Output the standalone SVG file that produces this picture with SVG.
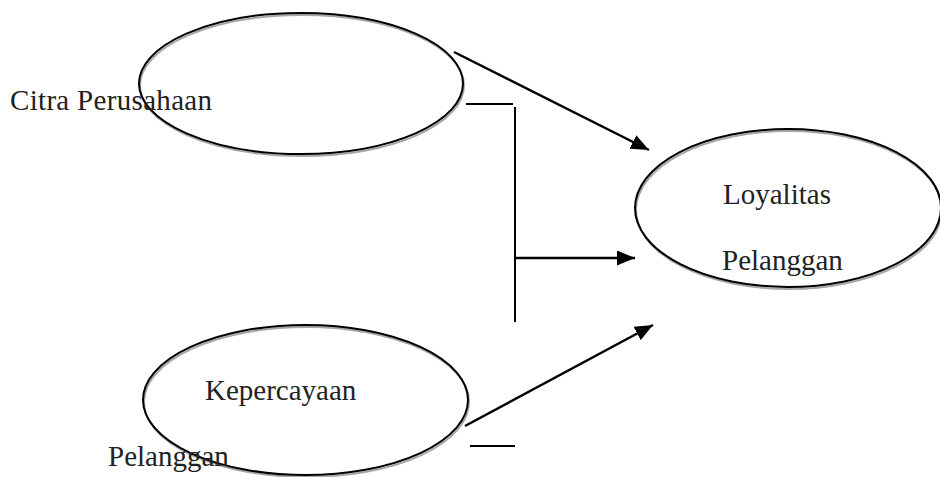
<svg xmlns="http://www.w3.org/2000/svg" width="940" height="477" viewBox="0 0 940 477">
<style>
.shadow{fill:none;stroke:#a6a6a6;stroke-width:2}
.node{fill:none;stroke:#000;stroke-width:2}
.lbl{font-family:"Liberation Serif","Times New Roman",serif;font-size:29px;fill:#222}
.conn{stroke:#000;stroke-width:2;fill:none}
.arr{stroke:#000;stroke-width:2.5;fill:none;marker-end:url(#ah)}
</style>
<defs>
<marker id="ah" markerUnits="userSpaceOnUse" markerWidth="18" markerHeight="15" refX="18" refY="7.5" orient="auto">
<path d="M0,0 L18,7.5 L0,15 z" fill="#000"/>
</marker>
</defs>
<rect width="940" height="477" fill="#fff"/>
<g id="connectors">
<line class="arr" x1="454" y1="52" x2="649" y2="150"/>
<line class="conn" x1="466" y1="104" x2="513" y2="104"/>
<line class="conn" x1="515" y1="107" x2="515" y2="322"/>
<line class="arr" x1="515" y1="258" x2="635" y2="258"/>
<line class="arr" x1="465" y1="426" x2="653" y2="325"/>
<line class="conn" x1="470" y1="446" x2="515" y2="446"/>
</g>
<g id="citra-perusahaan">
<ellipse class="shadow" cx="302" cy="85.5" rx="162" ry="70.5"/>
<ellipse class="node" cx="301" cy="83.5" rx="162" ry="70.5"/>
<text class="lbl" x="10" y="110" textLength="202">Citra Perusahaan</text>
</g>
<g id="loyalitas-pelanggan">
<ellipse class="shadow" cx="789" cy="210" rx="153" ry="79"/>
<ellipse class="node" cx="788" cy="208" rx="153" ry="79"/>
<text class="lbl" x="723" y="204">Loyalitas</text>
<text class="lbl" x="722" y="270">Pelanggan</text>
</g>
<g id="kepercayaan-pelanggan">
<ellipse class="shadow" cx="306.5" cy="402" rx="162.5" ry="75"/>
<ellipse class="node" cx="305.5" cy="400" rx="162.5" ry="75"/>
<text class="lbl" x="205" y="400">Kepercayaan</text>
<text class="lbl" x="108" y="466">Pelanggan</text>
</g>
</svg>
